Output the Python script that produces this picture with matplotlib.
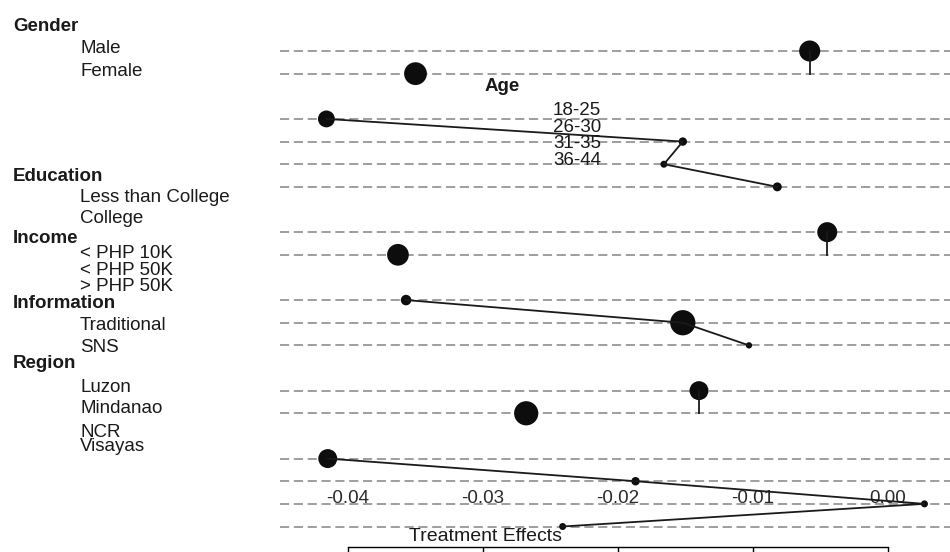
import matplotlib.pyplot as plt
import matplotlib.transforms as mtransforms

plt.rcParams['font.family'] = ['Liberation Sans', 'DejaVu Sans']

# Treatment effects by subgroup, with marker weights (share of respondents)
gender_levels = ["Male", "Female"]
gender_effects = [-0.0058, -0.0350]
gender_weights = [100, 117]

age_levels = ["18-25", "26-30", "31-35", "36-44"]
age_effects = [-0.0416, -0.0152, -0.0166, -0.0082]
age_weights = [64, 16, 11, 18]

edu_levels = ["Less than College", "College"]
edu_effects = [-0.0045, -0.0363]
edu_weights = [90, 106]

income_levels = ["< PHP 10K", "< PHP 50K", "> PHP 50K"]
income_effects = [-0.0357, -0.0152, -0.0103]
income_weights = [25, 144, 9]

info_levels = ["Traditional", "SNS"]
info_effects = [-0.0140, -0.0268]
info_weights = [81, 132]

region_levels = ["Luzon", "Mindanao", "NCR", "Visayas"]
region_effects = [-0.0415, -0.0187, 0.0027, -0.0241]
region_weights = [81, 16, 11, 11]

ticks = [-0.04, -0.03, -0.02, -0.01, 0.00]

groups = [
    ("Gender", gender_levels, gender_effects, gender_weights),
    ("Age", age_levels, age_effects, age_weights),
    ("Education", edu_levels, edu_effects, edu_weights),
    ("Income", income_levels, income_effects, income_weights),
    ("Information", info_levels, info_effects, info_weights),
    ("Region", region_levels, region_effects, region_weights),
]

W, H = 950, 552
fig = plt.figure(figsize=(W / 100, H / 100), dpi=100)

# plotting panel: rows are 22.64 px apart, 0.01 effect = 135 px
ax = fig.add_axes([280 / W, 0, 670 / W, 1])
ax.set_xlim(-0.045037, 0.0045926)
ax.set_ylim(22.126, -2.2524)
ax.patch.set_alpha(0)

row = -1
for name, labs, eff, wts in groups:
    row += 1  # header row, no guide line
    rows = list(range(row, row + len(labs)))
    row += len(labs)
    for r in rows:
        ax.axhline(r, color='#8e8e8e', lw=1.2, ls=(0, (5.5, 2.8)), zorder=1)
    ax.scatter(eff, rows, s=[2.3 * w for w in wts], color='#0d0d0d',
               edgecolors='none', zorder=3)
    if len(labs) == 2:
        # binary groups: stem down from the first level
        ax.plot([eff[0], eff[0]], rows, color='#1a1a1a', lw=1.3, zorder=4)
    else:
        ax.plot(eff, rows, color='#1a1a1a', lw=1.3, zorder=4)

# axis line with ticks below the panel
for side in ['top', 'left', 'right']:
    ax.spines[side].set_visible(False)
ax.spines['bottom'].set_position(('axes', 1 - 547 / H))
ax.spines['bottom'].set_bounds(ticks[0], ticks[-1])
ax.spines['bottom'].set_linewidth(1.0)
ax.set_xticks(ticks)
ax.set_yticks([])
ax.tick_params(axis='x', direction='out', length=8, width=1.0,
               labelbottom=False)

trans = mtransforms.blended_transform_factory(ax.transData, ax.transAxes)
for t in ticks:
    ax.text(t, 1 - 503 / H, f"{t:.2f}", transform=trans, ha='center',
            va='baseline', fontsize=13.5, color='#2a2a2a')

fig.text(486 / W, 1 - 541 / H, "Treatment Effects", ha='center',
         va='baseline', fontsize=14, color='#1a1a1a')

# group headers and level labels
label_layout = [
    ("Gender", 13, 30.7, True),
    ("Male", 80, 53.3, False),
    ("Female", 80, 76, False),
    ("Age", 485, 90.7, True),
    ("18-25", 553, 115, False),
    ("26-30", 553, 131.7, False),
    ("31-35", 553, 148.3, False),
    ("36-44", 553, 165, False),
    ("Education", 13, 180.7, True),
    ("Less than College", 80, 201.7, False),
    ("College", 80, 223.3, False),
    ("Income", 13, 242.7, True),
    ("< PHP 10K", 80, 258.3, False),
    ("< PHP 50K", 80, 275, False),
    ("> PHP 50K", 80, 291, False),
    ("Information", 13, 308.3, True),
    ("Traditional", 80, 330, False),
    ("SNS", 80, 351.7, False),
    ("Region", 13, 368.3, True),
    ("Luzon", 80, 391.7, False),
    ("Mindanao", 80, 413.3, False),
    ("NCR", 80, 436.7, False),
    ("Visayas", 80, 450.7, False),
]
for text, px, py, bold in label_layout:
    fig.text(px / W, 1 - py / H, text, ha='left', va='baseline',
             fontsize=13.5, fontweight='bold' if bold else 'normal',
             color='#1a1a1a')

fig.savefig('out.png', dpi=100)
